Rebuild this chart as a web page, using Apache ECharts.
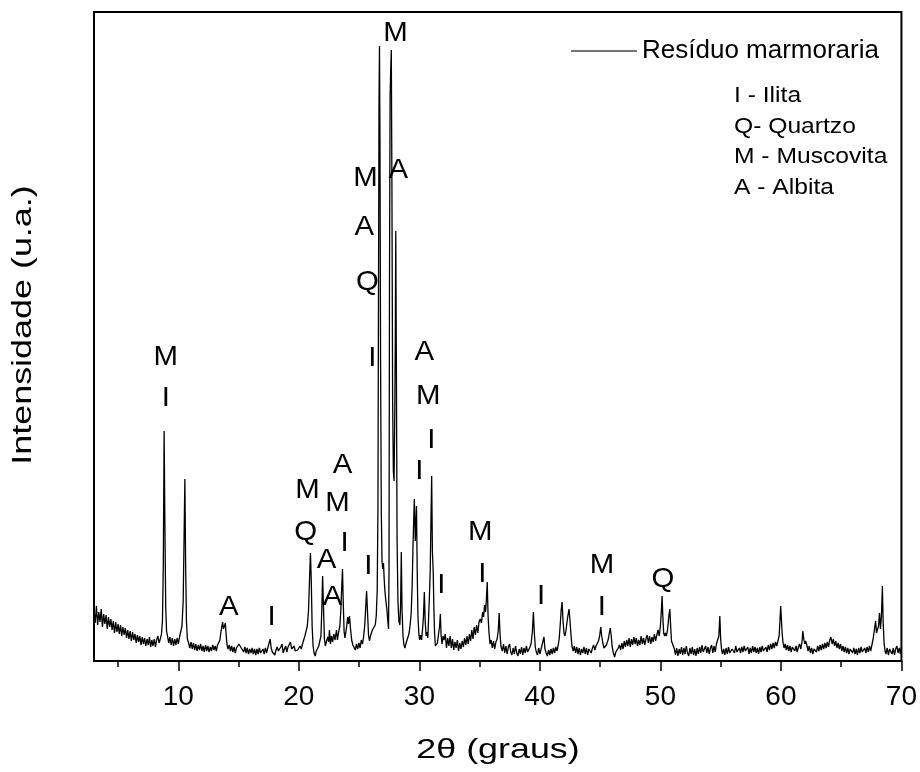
<!DOCTYPE html>
<html><head><meta charset="utf-8">
<script src="https://cdn.jsdelivr.net/npm/echarts@6/dist/echarts.min.js"></script>
<style>html,body{margin:0;padding:0;background:#fff}#c{width:920px;height:772px}</style>
</head><body><div id="c"></div>
<script>
// 2θ (degrees), intensity (arbitrary units)
const scanLowAngle = [
[3.0,50],[3.1,38],[3.2,55],[3.3,36],[3.4,49],[3.5,39],[3.6,52],[3.7,34],[3.8,47],[3.9,37],
[4.0,46],[4.1,32],[4.2,44],[4.3,34],[4.4,42],[4.5,31],[4.6,40],[4.7,28],[4.8,39],[4.9,29],
[5.0,37],[5.1,27],[5.2,36],[5.3,25],[5.4,34],[5.5,26],[5.6,33],[5.7,23],[5.8,31],[5.9,22],
[6.0,30],[6.1,20],[6.2,29],[6.3,21],[6.4,27],[6.5,18],[6.6,26],[6.7,19],[6.8,25],[6.9,16],
[7.0,24],[7.1,17],[7.2,23],[7.3,15],[7.4,22],[7.5,16],[7.6,24],[7.7,14],[7.8,21],[7.9,15],
[8.0,22],[8.1,14],[8.2,21],[8.3,25],[8.4,18],[8.5,22],[8.6,27],[8.68,40],[8.75,95],[8.82,230],
[8.88,140],[8.95,55],[9.02,30],[9.1,25],[9.2,18],[9.3,24],[9.4,16],[9.5,23],[9.6,15],[9.7,22],
[9.8,16],[9.9,23],[10.0,17],[10.1,24],[10.2,26],[10.3,35],[10.4,60],[10.47,120],[10.54,182],[10.6,100],
[10.67,40],[10.75,22],[10.85,18],[10.95,13],[11.05,19],[11.15,12],[11.25,18],[11.35,11],[11.45,17],[11.55,10],
[11.65,16],[11.75,11],[11.85,17],[11.95,10],[12.05,15],[12.15,9],[12.25,16],[12.35,10],[12.45,15],[12.55,9],
[12.65,14],[12.75,10],[12.85,16],[12.95,11],[13.05,15],[13.15,10],[13.25,16],[13.35,15],[13.45,21],[13.52,28],
[13.6,34],[13.67,39],[13.74,32],[13.82,35],[13.9,38],[13.96,27],[14.04,16],[14.12,12],[14.22,16],[14.32,10],
[14.42,15],[14.52,9],[14.62,14],[14.72,8],[14.82,13],[14.92,15],[15.02,17],[15.12,18],[15.22,13],[15.32,14],
[15.42,9],[15.52,14],[15.62,8],[15.72,13],[15.82,7],[15.92,12],[16.02,8],[16.12,13],[16.22,7],[16.32,12],
[16.42,6],[16.52,12],[16.62,7],[16.72,13],[16.82,8],[16.92,6],[17.02,12],[17.12,7],[17.22,13],[17.32,8],
[17.42,13],[17.52,15],[17.62,22],[17.7,13],[17.8,9],[17.9,11],[18.0,6],[18.1,11],[18.2,14],[18.3,10],
[18.4,12],[18.5,14],[18.6,17],[18.7,8],[18.8,12],[18.9,15],[19.0,9],[19.1,14],[19.2,16],[19.3,19],
[19.4,12],[19.5,10],[19.6,15],[19.7,10],[19.8,12],[19.9,11]
];
const scanMainPeaks = [
[20.0,12],[20.1,15],[20.2,12],[20.3,17],[20.4,18],[20.5,25],[20.6,27],[20.7,35],[20.8,50],[20.88,80],
[20.96,108],[21.03,80],[21.1,35],[21.18,15],[21.26,8],[21.35,5],[21.45,10],[21.55,8],[21.65,15],[21.75,16],
[21.83,25],[21.9,50],[21.97,85],[22.04,55],[22.12,22],[22.2,15],[22.3,20],[22.4,24],[22.47,19],[22.54,31],
[22.62,17],[22.7,25],[22.8,19],[22.9,27],[23.0,21],[23.06,19],[23.12,31],[23.2,21],[23.3,29],[23.4,35],
[23.48,50],[23.56,75],[23.62,92],[23.68,60],[23.75,30],[23.82,23],[23.9,29],[23.98,36],[24.05,44],[24.12,37],
[24.2,45],[24.28,33],[24.38,21],[24.48,16],[24.58,17],[24.68,11],[24.78,17],[24.88,12],[24.98,18],[25.08,13],
[25.18,21],[25.28,17],[25.38,25],[25.46,35],[25.54,52],[25.62,70],[25.7,48],[25.78,26],[25.86,20],[25.94,25],
[26.02,26],[26.1,31],[26.18,33],[26.26,29],[26.34,36],[26.42,45],[26.5,70],[26.56,150],[26.6,330],[26.65,560],
[26.69,615],[26.73,520],[26.78,300],[26.84,150],[26.9,100],[26.96,92],[27.02,98],[27.08,82],[27.14,70],[27.22,60],
[27.3,52],[27.38,40],[27.44,32],[27.48,90],[27.52,380],[27.57,565],[27.62,590],[27.67,611],[27.72,480],[27.78,260],
[27.84,190],[27.9,180],[27.96,250],[28.0,320],[28.04,430],[28.09,300],[28.15,120],[28.22,60],[28.3,40],[28.38,36],
[28.44,55],[28.5,109],[28.56,52],[28.64,25],[28.72,16],[28.8,13],[28.9,18],[29.0,19],[29.08,25],[29.16,29],
[29.24,37],[29.32,48],[29.4,75],[29.48,120],[29.58,162],[29.66,120],[29.76,155],[29.82,90],[29.88,45],[29.95,28],
[30.02,21],[30.1,26],[30.18,21],[30.26,31],[30.34,45],[30.41,69],[30.48,40],[30.56,25],[30.63,29],[30.7,23],
[30.77,45],[30.83,64],[30.9,90],[30.96,140],[31.02,185],[31.08,110],[31.15,88],[31.2,55],[31.26,28],[31.33,15],
[31.4,16],[31.5,18],[31.6,28],[31.68,35],[31.74,47],[31.8,26],[31.88,17],[31.96,25]
];
const scanMid = [
[32.05,21],[32.15,27],[32.25,13],[32.35,23],[32.45,15],[32.55,25],[32.65,13],[32.75,22],[32.85,11],[32.95,19],
[33.05,13],[33.15,21],[33.25,10],[33.35,18],[33.45,12],[33.55,20],[33.65,14],[33.75,23],[33.85,16],[33.95,25],
[34.05,17],[34.15,27],[34.25,20],[34.35,31],[34.45,22],[34.55,34],[34.65,26],[34.75,36],[34.85,28],[34.95,39],
[35.05,42],[35.15,38],[35.25,49],[35.33,44],[35.41,56],[35.49,49],[35.56,61],[35.63,79],[35.7,45],[35.78,28],
[35.86,17],[35.95,21],[36.05,13],[36.15,20],[36.25,12],[36.35,19],[36.45,22],[36.54,30],[36.62,48],[36.7,25],
[36.78,14],[36.88,10],[36.98,17],[37.08,8],[37.18,15],[37.28,7],[37.38,14],[37.48,17],[37.58,9],[37.68,6],
[37.78,13],[37.88,7],[37.98,15],[38.08,8],[38.18,5],[38.28,12],[38.38,7],[38.48,14],[38.58,6],[38.68,13],
[38.78,8],[38.88,15],[38.98,9],[39.08,7],[39.18,14],[39.28,18],[39.38,30],[39.46,49],[39.54,28],[39.62,14],
[39.7,9],[39.8,6],[39.9,13],[40.0,7],[40.1,12],[40.18,14],[40.26,20],[40.34,24],[40.42,12],[40.52,8],
[40.62,5],[40.72,11],[40.82,6],[40.92,12],[41.02,7],[41.12,13],[41.22,8],[41.32,14],[41.42,10],[41.52,16],
[41.6,22],[41.68,35],[41.76,50],[41.84,59],[41.92,40],[42.0,28],[42.08,25],[42.16,30],[42.24,38],[42.32,45],
[42.42,52],[42.5,40],[42.58,26],[42.66,15],[42.76,10],[42.86,15],[42.96,8],[43.06,14],[43.16,7],[43.26,13],
[43.36,6],[43.46,12],[43.56,8],[43.66,14],[43.76,7],[43.86,13],[43.96,6],[44.06,12],[44.16,14],[44.26,8],
[44.36,13],[44.46,16],[44.56,11],[44.66,15],[44.76,17],[44.86,20],[44.96,25],[45.05,34],[45.12,26],[45.22,18],
[45.32,13],[45.42,12],[45.52,16],[45.6,18],[45.68,22],[45.76,28],[45.84,33],[45.92,25],[46.0,14],[46.1,8],
[46.2,4],[46.3,9],[46.4,8],[46.5,13],[46.6,16],[46.7,11],[46.8,18],[46.9,12],[47.0,20],[47.1,14],
[47.2,21],[47.3,15],[47.4,23],[47.5,14],[47.6,22],[47.7,16],[47.8,24],[47.9,17],[48.0,23],[48.1,15],
[48.2,21],[48.3,16],[48.4,25],[48.5,17],[48.6,23],[48.7,16],[48.8,22],[48.9,26],[49.0,18],[49.1,25],
[49.2,17],[49.3,24],[49.4,19],[49.5,27],[49.6,20],[49.7,26],[49.8,31],[49.9,25],[50.0,35]
];
const scanHighAngle = [
[50.07,48],[50.14,65],[50.2,45],[50.27,28],[50.35,25],[50.42,28],[50.5,25],[50.6,32],[50.7,45],[50.78,52],
[50.85,35],[50.92,20],[51.0,22],[51.08,18],[51.16,12],[51.25,6],[51.35,13],[51.45,5],[51.55,12],[51.65,7],
[51.75,14],[51.85,6],[51.95,13],[52.05,7],[52.15,15],[52.25,8],[52.35,5],[52.45,13],[52.55,7],[52.65,14],
[52.75,6],[52.85,12],[52.95,5],[53.05,13],[53.15,7],[53.25,14],[53.35,8],[53.45,16],[53.55,9],[53.65,7],
[53.75,15],[53.85,8],[53.95,14],[54.05,7],[54.15,13],[54.25,16],[54.35,8],[54.45,15],[54.55,9],[54.65,17],
[54.75,18],[54.85,25],[54.93,45],[55.0,22],[55.07,12],[55.15,7],[55.25,12],[55.35,6],[55.45,13],[55.55,7],
[55.65,14],[55.75,8],[55.85,6],[55.95,12],[56.05,14],[56.15,8],[56.25,15],[56.35,9],[56.45,7],[56.55,13],
[56.65,8],[56.75,14],[56.85,9],[56.95,15],[57.05,10],[57.15,8],[57.25,14],[57.35,7],[57.45,13],[57.55,8],
[57.65,15],[57.75,9],[57.85,14],[57.95,8],[58.05,13],[58.15,7],[58.25,14],[58.35,9],[58.45,15],[58.55,10],
[58.65,8],[58.75,14],[58.85,9],[58.95,16],[59.05,11],[59.15,17],[59.25,12],[59.35,18],[59.45,13],[59.55,19],
[59.65,15],[59.75,20],[59.85,25],[59.92,40],[59.98,55],[60.04,42],[60.1,28],[60.18,18],[60.26,13],[60.35,17],
[60.45,11],[60.55,16],[60.65,10],[60.75,15],[60.85,9],[60.95,14],[61.05,16],[61.15,10],[61.25,15],[61.35,9],
[61.45,14],[61.55,17],[61.65,12],[61.75,19],[61.82,30],[61.9,22],[61.98,17],[62.05,20],[62.15,16],[62.25,10],
[62.35,15],[62.45,8],[62.55,13],[62.65,7],[62.75,12],[62.85,14],[62.95,9],[63.05,15],[63.15,10],[63.25,16],
[63.35,11],[63.45,17],[63.55,12],[63.65,18],[63.75,13],[63.85,19],[63.95,14],[64.05,21],[64.15,24],[64.25,17],
[64.35,22],[64.45,15],[64.55,20],[64.65,13],[64.75,18],[64.85,12],[64.95,17],[65.05,10],[65.15,15],[65.25,9],
[65.35,14],[65.45,8],[65.55,13],[65.65,7],[65.75,12],[65.85,14],[65.95,8],[66.05,13],[66.15,7],[66.25,12],
[66.35,6],[66.45,13],[66.55,8],[66.65,14],[66.75,9],[66.85,7],[66.95,13],[67.05,8],[67.15,14],[67.25,9],
[67.35,15],[67.45,10],[67.55,16],[67.65,22],[67.72,28],[67.8,35],[67.86,40],[67.93,28],[68.0,26],[68.1,35],
[68.18,48],[68.26,32],[68.34,45],[68.42,75],[68.48,40],[68.56,18],[68.64,10],[68.72,7],[68.82,13],[68.92,6],
[69.02,12],[69.12,14],[69.22,7],[69.32,13],[69.42,6],[69.52,12],[69.62,15],[69.72,8],[69.82,13],[69.92,7],[70.0,14]
];

const majorTicks = [10, 20, 30, 40, 50, 60, 70];
const minorTicks = [5, 15, 25, 35, 45, 55, 65];

const peakLabels = ['M','I','A','I','M','Q','A','A','A','M','I','I','M','A','Q','I','M','A','A','M','I','I','I','M','I','I','M','I','Q'];
const peakLabelX = [8.96,8.96,14.18,17.74,20.72,20.56,22.3,22.79,23.62,23.21,23.79,25.77,25.53,25.44,25.69,26.1,28.01,28.26,30.41,30.74,30.99,30.0,31.82,35.05,35.22,40.1,45.15,45.15,50.2];
const peakLabelY = [304,263,54,44,171,129,101,64,196,158,118,95,483,434,379,303,628,491,309,265,221,190,76,129,87,65,96,54,82];

const phaseKey = ['I - Ilita', 'Q- Quartzo', 'M - Muscovita', 'A - Albita'];
const seriesName = 'Resíduo marmoraria';
const xTitle = '2θ (graus)';
const yTitle = 'Intensidade (u.a.)';

const FONT = '"Liberation Sans", Arial, sans-serif';
const scan = scanLowAngle.concat(scanMainPeaks, scanMid, scanHighAngle);
const labelData = peakLabelX.map((x, i) => [x, peakLabelY[i]]);

const chart = echarts.init(document.getElementById('c'), null, {renderer: 'canvas', width: 920, height: 772});

const graphics = [
  {type: 'text', x: 24, y: 325, rotation: Math.PI / 2, scaleX: 1.33, silent: true,
   style: {text: yTitle, fontSize: 27, fontFamily: FONT, fill: '#000', align: 'center', verticalAlign: 'middle'}},
  {type: 'text', x: 498, y: 750, scaleX: 1.28, silent: true,
   style: {text: xTitle, fontSize: 28, fontFamily: FONT, fill: '#000', align: 'center', verticalAlign: 'middle'}}
];
phaseKey.forEach((t, i) => {
  graphics.push({type: 'text', x: 734, y: 96 + i * 30.5, scaleX: 1.12, silent: true,
    style: {text: t, fontSize: 22, fontFamily: FONT, fill: '#000', align: 'left', verticalAlign: 'middle'}});
});

chart.setOption({
  animation: false,
  backgroundColor: '#fff',
  grid: {left: 94, right: 17, top: 12, bottom: 111, show: true, borderColor: '#000', borderWidth: 2, backgroundColor: 'transparent'},
  legend: {
    data: [{name: seriesName, icon: 'rect'}], left: 566, top: 33, itemWidth: 66, itemHeight: 1.4,
    itemStyle: {color: '#444', borderWidth: 0},
    textStyle: {fontSize: 26, fontFamily: FONT, color: '#000'}
  },
  xAxis: [
    {type: 'value', min: 3, max: 70, position: 'bottom',
     axisLine: {show: true, onZero: false, lineStyle: {color: '#000', width: 2}},
     axisTick: {show: true, customValues: majorTicks, length: 10, lineStyle: {color: '#000', width: 1.5}},
     axisLabel: {show: true, customValues: majorTicks, fontSize: 28, fontFamily: FONT, color: '#000', margin: 22},
     splitLine: {show: false}},
    {type: 'value', min: 3, max: 70, position: 'bottom',
     axisLine: {show: false, onZero: false},
     axisTick: {show: true, customValues: minorTicks, length: 6, lineStyle: {color: '#000', width: 1.5}},
     axisLabel: {show: false},
     splitLine: {show: false}}
  ],
  yAxis: {type: 'value', min: 0, max: 649,
    axisLine: {show: true, lineStyle: {color: '#000', width: 2}},
    axisTick: {show: false}, axisLabel: {show: false}, splitLine: {show: false}},
  series: [
    {name: seriesName, type: 'line', xAxisIndex: 0, yAxisIndex: 0, data: scan,
     symbol: 'none', showSymbol: false, sampling: null, silent: true,
     lineStyle: {color: '#000', width: 1.3}, itemStyle: {color: '#000'}},
    {type: 'custom', xAxisIndex: 0, yAxisIndex: 0, data: labelData, silent: true, z: 5,
     renderItem: function (params, api) {
       const p = api.coord([api.value(0), api.value(1)]);
       return {type: 'text', x: p[0], y: p[1], scaleX: 1.05,
         style: {text: peakLabels[params.dataIndex], fontSize: 28, fontFamily: FONT, fill: '#000',
                 align: 'center', verticalAlign: 'middle'}};
     }}
  ],
  graphic: graphics
});
</script>
</body></html>
